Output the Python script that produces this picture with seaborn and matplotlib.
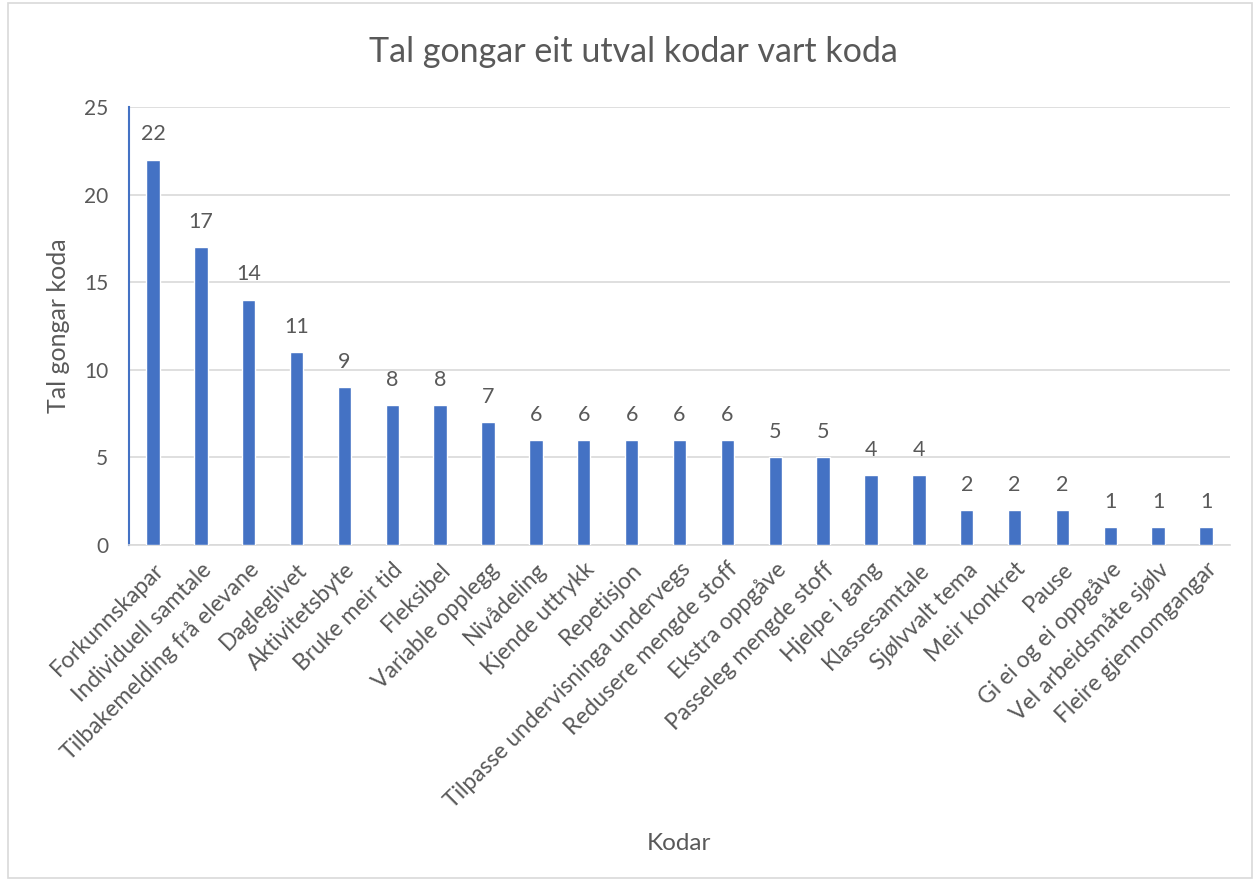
import matplotlib
matplotlib.use("Agg")
import matplotlib.pyplot as plt
import seaborn as sns
import pandas as pd
from matplotlib.patches import Rectangle

categories = ["Forkunnskapar", "Individuell samtale", "Tilbakemelding frå elevane",
              "Dagleglivet", "Aktivitetsbyte", "Bruke meir tid", "Fleksibel",
              "Variable opplegg", "Nivådeling", "Kjende uttrykk", "Repetisjon",
              "Tilpasse undervisninga undervegs", "Redusere mengde stoff",
              "Ekstra oppgåve", "Passeleg mengde stoff", "Hjelpe i gang",
              "Klassesamtale", "Sjølvvalt tema", "Meir konkret", "Pause",
              "Gi ei og ei oppgåve", "Vel arbeidsmåte sjølv", "Fleire gjennomgangar"]
values = [22, 17, 14, 11, 9, 8, 8, 7, 6, 6, 6, 6, 6, 5, 5, 4, 4, 2, 2, 2, 1, 1, 1]
yticks = [0, 5, 10, 15, 20, 25]

df = pd.DataFrame({"Kodar": categories, "Tal": values})

sns.set_theme(style="white")
plt.rcParams['font.family'] = ['Lato', 'DejaVu Sans']
grey = "#595959"

fig = plt.figure(figsize=(12.58, 8.81), dpi=100)
ax = fig.add_axes([129/1258, 1 - 545/881, (1230 - 129)/1258, (545 - 107)/881])

sns.barplot(data=df, x="Kodar", y="Tal", color="#4472C4", width=0.28,
            saturation=1, ax=ax, zorder=3)

ax.set_ylim(0, 25)
ax.set_xlim(-0.5, len(categories) - 0.5)
ax.set_yticks(yticks)
ax.yaxis.grid(True, color="#D9D9D9", linewidth=1.2, zorder=0)
ax.set_axisbelow(True)
for s in ["top", "right"]:
    ax.spines[s].set_visible(False)
ax.spines["bottom"].set_color("#D9D9D9")
ax.spines["bottom"].set_linewidth(1.2)
ax.spines["left"].set_color("#4472C4")
ax.spines["left"].set_linewidth(1.5)
ax.tick_params(axis="x", length=0, colors=grey, labelsize=16.5, pad=10)
ax.tick_params(axis="y", length=0, colors=grey, labelsize=15, pad=15)
ax.set_xticks(range(len(categories)))
ax.set_xticklabels(categories, rotation=45, ha="right", rotation_mode="anchor")

for i, v in enumerate(values):
    ax.annotate(str(v), (i, v), xytext=(0, 11), textcoords="offset points",
                ha="center", va="bottom", fontsize=15.5, color=grey)

ax.set_xlabel("Kodar", fontsize=17.5, color=grey)
ax.xaxis.set_label_coords((679 - 129) / (1230 - 129), (545 - 833) / (545 - 107))
ax.set_ylabel("Tal gongar koda", fontsize=18, color=grey)
ax.yaxis.set_label_coords((70 - 129) / (1230 - 129), 0.5)

fig.text(633/1258, 1 - 52/881, "Tal gongar eit utval kodar vart koda",
         ha="center", va="center", fontsize=24.5, color=grey)

fig.patches.append(Rectangle((8/1258, 3/881), (1252 - 8)/1258, (878 - 3)/881,
                             transform=fig.transFigure, fill=False,
                             edgecolor="#D9D9D9", linewidth=1.2))

fig.savefig("out.png", dpi=100)
